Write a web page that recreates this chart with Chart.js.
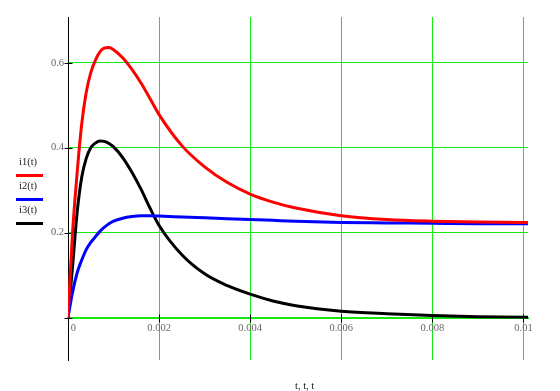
<!DOCTYPE html>
<html>
<head>
<meta charset="utf-8">
<script src="https://cdn.jsdelivr.net/npm/chart.js@4/dist/chart.umd.min.js"></script>
<style>
  html, body { margin: 0; padding: 0; background: #fff; }
  #wrap { position: relative; width: 560px; height: 391px; }
  canvas { position: absolute; left: 0; top: 0; }
  .txt { position: absolute; font-family: "Liberation Serif", serif; font-size: 10.5px; color: #222; white-space: nowrap; line-height: 1; }
  .sw { position: absolute; height: 3px; width: 27px; }
</style>
</head>
<body>
<div id="wrap">
  <canvas id="c" width="560" height="391"></canvas>
  <div class="txt" style="left:19px; top:157px;">i1(t)</div>
  <div class="sw" style="left:16px; top:174px; background:#ff0000;"></div>
  <div class="txt" style="left:19px; top:181px;">i2(t)</div>
  <div class="sw" style="left:16px; top:198px; background:#0000ff;"></div>
  <div class="txt" style="left:19px; top:205px;">i3(t)</div>
  <div class="sw" style="left:16px; top:222px; background:#000000;"></div>
  <div class="txt" style="left:295px; top:381px;">t, t, t</div>
</div>
<script>
// time samples (s)
const tVals = [0, 0.0001, 0.0002, 0.0003, 0.0004, 0.0005, 0.0006, 0.0007, 0.0008, 0.0009, 0.001,
  0.0012, 0.0014, 0.0016, 0.0018, 0.002, 0.0025, 0.003, 0.0035, 0.004, 0.0045, 0.005,
  0.006, 0.007, 0.008, 0.009, 0.01, 0.0101];
const i1Vals = [0, 0.2, 0.34, 0.455, 0.53, 0.577, 0.606, 0.626, 0.635, 0.636, 0.631,
  0.612, 0.585, 0.553, 0.516, 0.478, 0.405, 0.355, 0.318, 0.291, 0.272, 0.258,
  0.24, 0.231, 0.227, 0.225, 0.224, 0.224];
const i2Vals = [0, 0.06, 0.105, 0.135, 0.16, 0.177, 0.19, 0.203, 0.213, 0.221, 0.227,
  0.234, 0.238, 0.24, 0.24, 0.239, 0.237, 0.235, 0.233, 0.231, 0.229, 0.227,
  0.224, 0.223, 0.222, 0.221, 0.221, 0.221];
const i3Vals = [0, 0.12, 0.247, 0.33, 0.375, 0.4, 0.411, 0.416, 0.415, 0.41, 0.402,
  0.377, 0.343, 0.303, 0.258, 0.217, 0.148, 0.103, 0.075, 0.055, 0.039, 0.028,
  0.015, 0.009, 0.005, 0.002, 0.001, 0.001];
const xTicks = [0, 0.002, 0.004, 0.006, 0.008, 0.01];
const yTicks = [0, 0.2, 0.4, 0.6];
const seriesNames = ['i1(t)', 'i2(t)', 'i3(t)'];

const GRID = 'rgb(20,235,20)';
const toPts = vals => tVals.map((t, k) => ({ x: t, y: vals[k] }));

const tickMarks = {
  id: 'tickMarks',
  beforeDatasetsDraw(chart) {
    const { ctx, scales: { x, y } } = chart;
    ctx.save();
    ctx.strokeStyle = '#000';
    ctx.lineWidth = 1;
    const x0 = Math.round(x.getPixelForValue(0)) + 0.5;
    const y0 = Math.round(y.getPixelForValue(0)) + 0.5;
    ctx.beginPath();
    yTicks.forEach(v => {
      const py = Math.round(y.getPixelForValue(v)) + 0.5;
      ctx.moveTo(x0 - 4, py); ctx.lineTo(x0 + 4, py);
    });
    xTicks.forEach(v => {
      const px = Math.round(x.getPixelForValue(v)) + 0.5;
      ctx.moveTo(px, y0 - 4); ctx.lineTo(px, y0 + 4);
    });
    ctx.stroke();
    ctx.restore();
  }
};

const font = { family: '"Liberation Serif", serif', size: 10.5 };

new Chart(document.getElementById('c'), {
  type: 'line',
  data: {
    datasets: [
      { label: seriesNames[0], data: toPts(i1Vals), borderColor: '#ff0000', borderWidth: 3 },
      { label: seriesNames[1], data: toPts(i2Vals), borderColor: '#0000ff', borderWidth: 3 },
      { label: seriesNames[2], data: toPts(i3Vals), borderColor: '#000000', borderWidth: 3 }
    ]
  },
  options: {
    responsive: false,
    animation: false,
    devicePixelRatio: 1,
    layout: { padding: { left: 0, top: 17, right: 32, bottom: 31 } },
    elements: { point: { radius: 0 }, line: { cubicInterpolationMode: 'monotone', fill: false } },
    plugins: { legend: { display: false }, tooltip: { enabled: false } },
    scales: {
      x: {
        type: 'linear',
        position: { y: 0 },
        min: 0, max: 0.0101,
        afterBuildTicks: s => { s.ticks = xTicks.map(v => ({ value: v })); },
        grid: { color: GRID, lineWidth: 1, drawTicks: false },
        border: { display: true, color: GRID, width: 2 },
        ticks: {
          autoSkip: false, maxRotation: 0, padding: 4, color: '#666', font,
          callback: v => (v === 0 ? '    0' : String(+v.toFixed(4)))
        }
      },
      y: {
        type: 'linear',
        position: 'left',
        min: -0.1, max: 0.708,
        afterBuildTicks: s => { s.ticks = yTicks.map(v => ({ value: v })); },
        afterFit: s => { s.width = 68; },
        grid: { color: GRID, lineWidth: 1, drawTicks: false },
        border: { display: true, color: '#000', width: 1 },
        ticks: {
          padding: 4, color: '#666', font,
          callback: v => (v === 0 ? '' : String(+v.toFixed(1)))
        }
      }
    }
  },
  plugins: [tickMarks]
});
</script>
</body>
</html>
